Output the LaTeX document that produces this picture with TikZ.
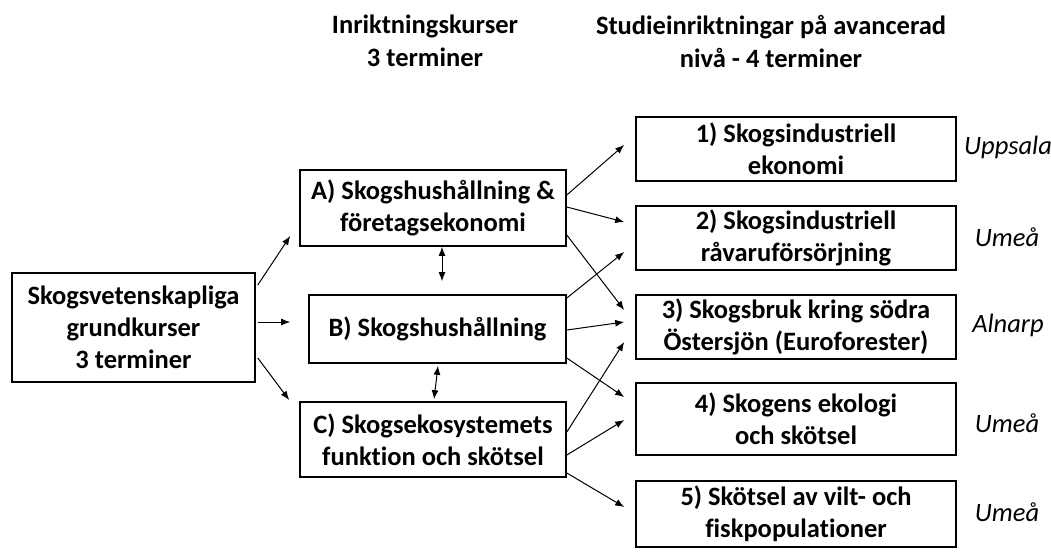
\documentclass[tikz,border=0pt]{standalone}
\usepackage{fontspec}
\setmainfont{Carlito}[Ligatures=NoCommon]
\usetikzlibrary{arrows.meta}

\begin{document}
\begin{tikzpicture}[x=1pt, y=-1pt,
  box/.style={draw, line width=1.6pt, inner sep=0pt, align=center,
    font=\fontsize{26.5}{32}\selectfont\bfseries},
  head/.style={align=center, font=\fontsize{26.5}{33}\selectfont\bfseries},
  place/.style={font=\fontsize{26.5}{30}\selectfont\itshape},
  arr/.style={line width=1pt, -{Latex[length=9pt,width=7pt]}},
  darr/.style={line width=1pt, {Latex[length=9pt,width=7pt]}-{Latex[length=9pt,width=7pt]}}]

\useasboundingbox (0,0) rectangle (1051,552);

% headings
\node[head] (hmid) at (425,41) {Inriktningskurser\\3 terminer};
\node[head] (hright) at (771,41) {Studieinriktningar på avancerad\\nivå - 4 terminer};

% left and middle column
\node[box, minimum width=243pt, minimum height=109pt] (S) at (133.5,327.5) {Skogsvetenskapliga\\grundkurser\\3 terminer};
\node[box, minimum width=266pt, minimum height=76pt] (A) at (433,208) {A) Skogshushållning \&\\företagsekonomi};
\node[box, minimum width=257pt, minimum height=68pt] (B) at (437.5,329) {B) Skogshushållning};
\node[box, minimum width=266pt, minimum height=75pt] (C) at (433,439.5) {C) Skogsekosystemets\\funktion och skötsel};

% right column
\node[box, minimum width=320pt, minimum height=64pt] (r1) at (796,149) {1) Skogsindustriell\\ekonomi};
\node[box, minimum width=320pt, minimum height=64pt] (r2) at (796,238) {2) Skogsindustriell\\råvaruförsörjning};
\node[box, minimum width=320pt, minimum height=64pt] (r3) at (796,327) {3) Skogsbruk kring södra\\Östersjön (Euroforester)};
\node[box, minimum width=320pt, minimum height=72pt] (r4) at (796,419) {4) Skogens ekologi\\och skötsel};
\node[box, minimum width=320pt, minimum height=66pt] (r5) at (796,514) {5) Skötsel av vilt- och\\fiskpopulationer};

% places
\node[place] (p1) at (1008,147) {Uppsala};
\node[place] (p2) at (1007,237) {Umeå};
\node[place] (p3) at (1008,325) {Alnarp};
\node[place] (p4) at (1007,423) {Umeå};
\node[place] (p5) at (1007,512) {Umeå};

% arrows
\draw[arr] ([xshift=2pt,yshift=42.5pt]S.east) -- ([xshift=-9pt,yshift=-28pt]A.west);
\draw[arr] ([xshift=2pt,yshift=5.5pt]S.east) -- ([xshift=-18pt,yshift=7pt]B.west);
\draw[arr] ([xshift=2pt,yshift=-30.5pt]S.east) -- ([xshift=-10pt,yshift=39.5pt]C.west);

\draw[darr] ([xshift=9pt]A.south) -- ([xshift=4.5pt,yshift=13pt]B.north);
\draw[darr] ([xshift=0.5pt,yshift=-2pt]B.south) -- ([xshift=1pt,yshift=2pt]C.north);

\draw[arr] ([yshift=13pt]A.east) -- ([xshift=-11pt,yshift=4pt]r1.west);
\draw[arr] ([yshift=1pt]A.east) -- ([xshift=-11pt,yshift=16pt]r2.west);
\draw[arr] ([yshift=-27pt]A.east) -- ([xshift=-11pt,yshift=17pt]r3.west);

\draw[arr] ([yshift=31pt]B.east) -- ([xshift=-11pt,yshift=-14pt]r2.west);
\draw[arr] ([yshift=-1pt]B.east) -- ([xshift=-11pt,yshift=5pt]r3.west);
\draw[arr] ([yshift=-29pt]B.east) -- ([xshift=-11pt,yshift=22pt]r4.west);

\draw[arr] ([yshift=7.5pt]C.east) -- ([xshift=-11pt,yshift=-15pt]r3.west);
\draw[arr] ([yshift=-15.5pt]C.east) -- ([xshift=-11pt,yshift=-1pt]r4.west);
\draw[arr] ([yshift=-33.5pt]C.east) -- ([xshift=-11pt,yshift=7pt]r5.west);

\end{tikzpicture}
\end{document}
